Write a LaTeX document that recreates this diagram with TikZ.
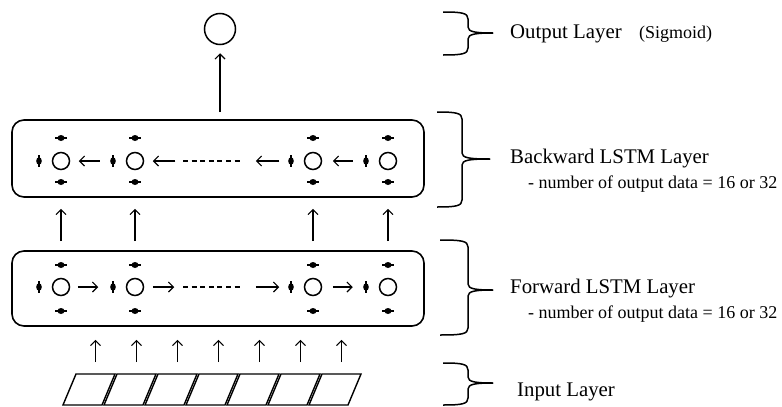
\documentclass[tikz,border=0pt]{standalone}
\usepackage{fontspec}
\setmainfont{Liberation Serif}
\usetikzlibrary{arrows.meta,calc}
\newcommand{\sidebrace}[6]{% xl xv xt top mid bot
  \draw[brc] (#1,#4) .. controls ({#2-6},#4) and (#2,{#4+1}) .. (#2,{#4+7}) -- (#2,{#5-6}) .. controls (#2,{#5-1}) and ({#2+8},#5) .. (#3,#5);
  \draw[brc] (#3,#5) .. controls ({#2+8},#5) and (#2,{#5+1}) .. (#2,{#5+6}) -- (#2,{#6-7}) .. controls (#2,{#6-1}) and ({#2-6},#6) .. (#1,#6);}
\begin{document}
\begin{tikzpicture}[x=1pt,y=-1pt,
  lay/.style={draw,line width=1.6pt,rounded corners=12pt,minimum width=412pt,inner sep=0pt},
  cell/.style={circle,draw,line width=1.5pt,minimum size=17pt,inner sep=0pt},
  bigcell/.style={circle,draw,line width=1.5pt,minimum size=31pt,inner sep=0pt},
  arr/.style={line width=1.1pt,-{Straight Barb[length=5pt,width=10pt,line width=1.1pt]}},
  dashln/.style={line width=1.1pt,dash pattern=on 5pt off 3.6pt},
  brc/.style={line width=1.5pt},
  inpar/.style={line width=1.4pt,line join=miter},
  lbl/.style={anchor=base west,inner sep=0pt,font=\fontsize{20.8}{24}\selectfont},
  sublbl/.style={anchor=base west,inner sep=0pt,font=\fontsize{18}{21}\selectfont},
  hdot/.pic={\draw[line width=1.2pt] (-6,0) -- (6,0); \fill (0,0) ellipse (3.6pt and 3pt);},
  vdot/.pic={\draw[line width=1.2pt] (0,-6) -- (0,6); \fill (0,0) ellipse (2.8pt and 3.8pt);}
]
\useasboundingbox (0,0) rectangle (782,407);

% output
\node[bigcell] (out) at (220,29) {};

% layer boxes
\node[lay,minimum height=77pt] (bbox) at (218,158.5) {};
\node[lay,minimum height=75pt] (fbox) at (218,288.5) {};

% cells
\foreach \i/\x in {1/61,2/135,3/313,4/388}{
  \node[cell] (b\i) at (\x,161) {};
  \pic at (\x,138) {hdot};
  \pic at (\x,182) {hdot};
  \pic at (\x-22,161) {vdot};
  \node[cell] (f\i) at (\x,287) {};
  \pic at (\x,265) {hdot};
  \pic at (\x,311) {hdot};
  \pic at (\x-22,287) {vdot};
}

% backward arrows
\draw[arr] ($(b2.west)+(-26,0)$) -- ($(b1.east)+(8.5,0)$);
\draw[arr] ($(b2.east)+(31,0)$) -- ($(b2.east)+(8.5,0)$);
\coordinate (bd1) at (183,161);
\coordinate (bd2) at (242,161);
\draw[dashln] (bd1) -- (bd2);
\draw[arr] ($(b3.west)+(-24.5,0)$) -- ($(b3.west)+(-48,0)$);
\draw[arr] ($(b4.west)+(-26,0)$) -- ($(b3.east)+(10.5,0)$);

% forward arrows
\draw[arr] ($(f1.east)+(7.5,0)$) -- ($(f2.west)+(-27.5,0)$);
\draw[arr] ($(f2.east)+(8.5,0)$) -- ($(f2.east)+(30,0)$);
\coordinate (fd1) at (183,287);
\coordinate (fd2) at (242,287);
\draw[dashln] (fd1) -- (fd2);
\draw[arr] ($(f3.west)+(-48,0)$) -- ($(f3.west)+(-24.5,0)$);
\draw[arr] ($(f3.east)+(10.5,0)$) -- ($(f4.west)+(-26,0)$);

% vertical arrows between layers
\foreach \i in {1,2,3,4}{
  \draw[arr] ($(f\i |- fbox.north)+(0,-9)$) -- ($(f\i |- bbox.south)+(0,11)$);
}
% to output
\draw[arr] ($(out |- bbox.north)+(0,-7)$) -- ($(out.south)+(0,8)$);

% input parallelograms
\foreach \i in {1,...,7}{
  \pgfmathsetmacro{\xl}{76+41*(\i-1)}
  \coordinate (p\i) at (\xl+19.5,374);
  \draw[inpar] (\xl,374) -- (\xl+39,374) -- (\xl+26,405) -- (\xl-13,405) -- cycle;
  \draw[arr] ($(p\i)+(0,-12)$) -- ($(p\i |- fbox.south)+(0,13)$);
}

% braces
\sidebrace{443}{468}{493}{12}{33}{55}
\sidebrace{437}{462}{490}{112}{159}{207}
\sidebrace{440}{468}{493}{240}{290}{335}
\sidebrace{443}{468}{493}{363}{383}{405}

% labels
\node[lbl] (tout) at (510,38) {Output Layer};
\node[sublbl] (tsig) at (639,38) {(Sigmoid)};
\node[lbl] (tbw) at (510,163) {Backward LSTM Layer};
\node[sublbl] (tbws) at (528,188) {- number of output data = 16 or 32};
\node[lbl] (tfw) at (510,293) {Forward LSTM Layer};
\node[sublbl] (tfws) at (528,318) {- number of output data = 16 or 32};
\node[lbl] (tin) at (517,396) {Input Layer};
\end{tikzpicture}
\end{document}
